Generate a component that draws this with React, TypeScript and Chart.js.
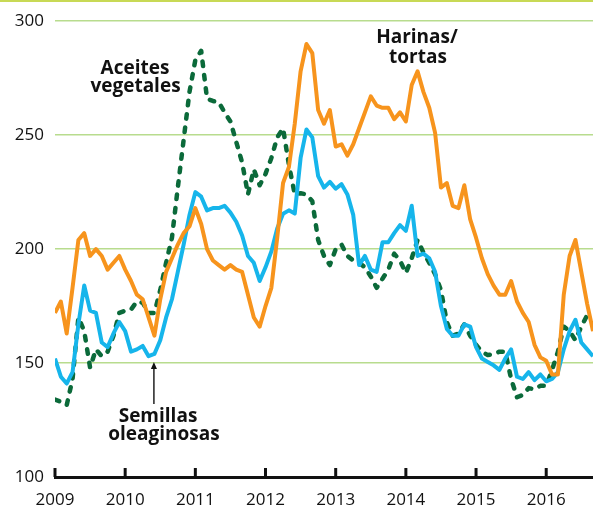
import React, { useEffect, useRef } from "react";
import { Chart, registerables } from "chart.js";

Chart.register(...registerables);

// Monthly data, Jan 2009 .. Sep 2016 (index 0 = Jan 2009)
const START_YEAR = 2009;
const yearTicks = [2009, 2010, 2011, 2012, 2013, 2014, 2015, 2016];
const yTicks = [100, 150, 200, 250, 300];

const harinas = [
  172, 177, 163, 183, 204, 207, 197, 200, 197, 191, 194, 197,
  191, 186, 180, 178, 170, 162, 178, 190, 196, 202, 207, 210,
  218, 211, 200, 195, 193, 191, 193, 191, 190, 180, 170, 166,
  175, 183, 205, 229, 236, 255, 278, 290, 286, 261, 255, 261,
  245, 246, 241, 246, 253, 260, 267, 263, 262, 262, 257, 260,
  256, 272, 278, 269, 262, 251, 227, 229, 219, 218, 228, 213,
  205, 196, 189, 184, 180, 180, 186, 177, 172, 168, 158, 152.5,
  151, 145, 145, 180, 197, 204, 190, 176, 164,
];

const semillas = [
  152, 144, 141, 146, 167, 184, 173, 172, 159, 157, 163, 168,
  164, 155, 156, 157.5, 153, 154, 160, 170, 178, 190, 202, 215,
  225, 223, 217, 218, 218, 219, 216, 212, 206, 197, 194, 186,
  192, 199, 209, 215.5, 217, 215.6, 240, 252.5, 249, 232, 227, 229.5,
  226.5, 228.5, 224, 215, 193, 197, 191, 190, 203, 203, 207, 210.5,
  208, 219, 197, 198, 196, 190, 175, 165, 162, 162, 167, 166,
  157, 152, 150.5, 149, 147, 152, 156, 144, 143, 146, 142.5, 145,
  142, 143, 146, 156, 164, 169, 159, 156, 153,
];

const aceites = [
  134, 133, 131.5, 143, 170, 164, 148, 156, 153, 155, 162, 172,
  173, 173.5, 177, 176.5, 172, 172, 182, 194, 205, 227, 248, 269,
  283, 287, 266, 265, 264.5, 260, 256, 247, 238, 224, 235, 228,
  233, 240, 249, 253, 237, 224, 224.5, 224, 221, 204, 197, 193,
  200, 202, 197, 195, 194, 192, 188, 183, 187, 191, 198, 195,
  189.5, 196, 204, 198.5, 194, 189, 182, 168, 162, 163, 167, 162,
  158, 155, 153.5, 154, 155, 155, 143, 135, 136, 139, 138.5, 140,
  140, 147, 155, 166, 164, 160, 166, 171, 172,
];

const labelHarinas = ["Harinas/", "tortas"];
const labelAceites = ["Aceites", "vegetales"];
const labelSemillas = ["Semillas", "oleaginosas"];

const toPoints = (arr: number[]) =>
  arr.map((v, i) => ({ x: START_YEAR + i / 12, y: v }));

const FONT = '"Open Sans", "DejaVu Sans", sans-serif';

const decorPlugin = {
  id: "decor",
  beforeDraw(chart: any) {
    const ctx = chart.ctx;
    ctx.save();
    ctx.fillStyle = "#c8d955";
    ctx.fillRect(0, 0, chart.width, 2);
    ctx.restore();
  },
  beforeDatasetsDraw(chart: any) {
    const ctx = chart.ctx;
    const xs = chart.scales.x;
    const bottom = chart.chartArea.bottom;
    ctx.save();
    ctx.strokeStyle = "#111";
    ctx.lineWidth = 3;
    yearTicks.forEach((yr) => {
      const px = xs.getPixelForValue(yr);
      ctx.beginPath();
      ctx.moveTo(px, bottom);
      ctx.lineTo(px, bottom - 9);
      ctx.stroke();
    });
    ctx.restore();
  },
  afterDraw(chart: any) {
    const ctx = chart.ctx;
    const xs = chart.scales.x;
    const ys = chart.scales.y;
    ctx.save();
    ctx.fillStyle = "#111";
    ctx.font = `bold 19px ${FONT}`;
    ctx.textAlign = "center";
    ctx.textBaseline = "alphabetic";
    ctx.fillText(labelAceites[0], 135, 74);
    ctx.fillText(labelAceites[1], 135.5, 92);
    ctx.fillText(labelHarinas[0], 417, 43);
    ctx.fillText(labelHarinas[1], 418, 63);
    ctx.fillText(labelSemillas[0], 158, 422);
    ctx.fillText(labelSemillas[1], 164, 440);

    // arrow pointing to Semillas line
    const ax = xs.getPixelForValue(START_YEAR + 17 / 12) - 0.5;
    const tip = ys.getPixelForValue(150.5);
    const tail = ys.getPixelForValue(132);
    ctx.strokeStyle = "#111";
    ctx.lineWidth = 1.4;
    ctx.beginPath();
    ctx.moveTo(ax, tail);
    ctx.lineTo(ax, tip + 5);
    ctx.stroke();
    ctx.beginPath();
    ctx.moveTo(ax, tip);
    ctx.lineTo(ax - 3, tip + 7);
    ctx.lineTo(ax + 3, tip + 7);
    ctx.closePath();
    ctx.fill();
    ctx.restore();
  },
};

export default function App() {
  const ref = useRef<HTMLCanvasElement | null>(null);

  useEffect(() => {
    if (!ref.current) return;
    const chart = new Chart(ref.current, {
      type: "line",
      data: {
        datasets: [
          {
            label: "Harinas/tortas",
            data: toPoints(harinas),
            borderColor: "#f7941d",
            borderWidth: 4,
            pointRadius: 0,
            tension: 0,
            borderJoinStyle: "round",
          },
          {
            label: "Semillas oleaginosas",
            data: toPoints(semillas),
            borderColor: "#16b5eb",
            borderWidth: 4,
            pointRadius: 0,
            tension: 0,
            borderJoinStyle: "round",
          },
          {
            label: "Aceites vegetales",
            data: toPoints(aceites),
            borderColor: "#0b6a3a",
            borderWidth: 4.5,
            borderDash: [4.5, 9],
            borderCapStyle: "round",
            pointRadius: 0,
            tension: 0,
            borderJoinStyle: "round",
          },
        ],
      },
      options: {
        responsive: false,
        animation: false,
        devicePixelRatio: 1,
        layout: { padding: { top: 18, right: 0, left: 0, bottom: 0 } },
        plugins: {
          legend: { display: false },
          tooltip: { enabled: false },
        },
        scales: {
          x: {
            type: "linear",
            min: START_YEAR,
            max: START_YEAR + 92 / 12,
            grid: { display: false, drawTicks: false },
            border: { display: true, color: "#111", width: 3 },
            ticks: {
              stepSize: 1,
              includeBounds: false,
              autoSkip: false,
              maxRotation: 0,
              padding: 13,
              color: "#111",
              font: { family: FONT, size: 17 },
              callback: (v: any) => String(v),
            },
            afterFit: (s: any) => {
              s.height = 31;
            },
          },
          y: {
            type: "linear",
            min: 100,
            max: 300,
            grid: {
              drawTicks: false,
              lineWidth: 1.5,
              color: (c: any) =>
                c.tick && c.tick.value === 100 ? "rgba(0,0,0,0)" : "#b8dc8e",
            },
            border: { display: false },
            ticks: {
              stepSize: 50,
              padding: 11,
              color: "#111",
              font: { family: FONT, size: 17 },
              callback: (v: any) => (yTicks.includes(v) ? String(v) : ""),
            },
            afterFit: (s: any) => {
              s.width = 55;
            },
          },
        },
      },
      plugins: [decorPlugin],
    });
    return () => chart.destroy();
  }, []);

  return (
    <div style={{ position: "fixed", left: 0, top: 0, width: 593, height: 508, background: "#fff" }}>
      <canvas ref={ref} width={593} height={508} style={{ display: "block" }} />
    </div>
  );
}
